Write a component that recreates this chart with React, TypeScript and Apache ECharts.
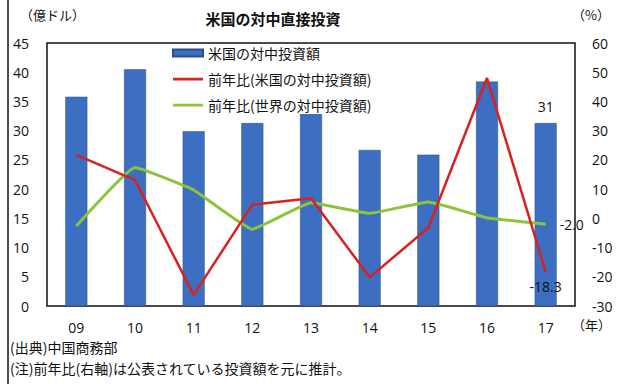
import React, { useEffect, useRef } from "react";
import * as echarts from "echarts";

const years = ["09", "10", "11", "12", "13", "14", "15", "16", "17"];
const usInvestment = [35.8, 40.5, 29.9, 31.3, 33.4, 26.7, 25.9, 38.4, 31.3];
const usYoY = [21.7, 13.1, -26.2, 4.7, 6.9, -20.2, -3.2, 48.0, -18.3];
const worldYoY = [-2.6, 17.4, 9.7, -3.7, 5.3, 1.7, 5.6, 0.2, -2.0];

const FONT = "'Noto Sans CJK JP', 'Noto Sans', sans-serif";
const NUMFONT = "'Open Sans', 'Noto Sans', sans-serif";
const LINE_ICON = "path://M0,0h30v0.01h-30zM0,2.3h30v2.6h-30zM0,6.99h30v0.01h-30z";

export default function App() {
  const ref = useRef<HTMLDivElement>(null);
  useEffect(() => {
    if (!ref.current) return;
    const chart = echarts.init(ref.current, null, { renderer: "svg" });
    const last = years.length - 1;
    chart.setOption({
      animation: false,
      backgroundColor: "#ffffff",
      grid: {
        left: 47,
        right: 51,
        top: 43,
        bottom: 78,
        show: true,
        borderColor: "#111",
        borderWidth: 1.5,
        backgroundColor: "transparent",
      },
      title: {
        text: "米国の対中直接投資",
        left: 268,
        textAlign: "center",
        top: 6,
        textStyle: { fontFamily: FONT, fontSize: 15, fontWeight: "bold", color: "#111" },
      },
      legend: {
        orient: "vertical",
        left: 168,
        top: 44,
        itemWidth: 30,
        itemHeight: 7,
        itemGap: 12,
        backgroundColor: "#ffffff",
        padding: [2, 4, 2, 4],
        textStyle: { fontFamily: FONT, fontSize: 14, color: "#111" },
        data: [
          { name: "米国の対中投資額", icon: "rect" },
          { name: "前年比(米国の対中投資額)", icon: LINE_ICON, itemStyle: { borderWidth: 0 } },
          { name: "前年比(世界の対中投資額)", icon: LINE_ICON, itemStyle: { borderWidth: 0 } },
        ],
      },
      xAxis: {
        type: "category",
        data: years,
        axisLine: { show: false },
        axisTick: { show: false },
        axisLabel: { fontFamily: NUMFONT, fontSize: 14, color: "#111", margin: 14 },
      },
      yAxis: [
        {
          type: "value",
          min: 0,
          max: 45,
          interval: 5,
          splitLine: { show: false },
          axisLine: { show: false },
          axisTick: { show: false },
          axisLabel: { fontFamily: NUMFONT, fontSize: 14, color: "#111", margin: 18 },
        },
        {
          type: "value",
          min: -30,
          max: 60,
          interval: 10,
          position: "right",
          splitLine: { show: false },
          axisLine: { show: false },
          axisTick: { show: false },
          axisLabel: { fontFamily: NUMFONT, fontSize: 14, color: "#111", margin: 17 },
        },
      ],
      series: [
        {
          name: "米国の対中投資額",
          type: "bar",
          yAxisIndex: 0,
          barWidth: 22,
          itemStyle: { color: "#3c6fc2", borderColor: "#2a4f8f", borderWidth: 0.5 },
          data: usInvestment.map((v, i) =>
            i === last
              ? {
                  value: v,
                  label: {
                    show: true,
                    position: "top",
                    distance: 10,
                    formatter: String(Math.round(v)),
                    fontFamily: NUMFONT,
                    fontSize: 14,
                    color: "#111",
                  },
                }
              : v
          ),
        },
        {
          name: "前年比(米国の対中投資額)",
          type: "line",
          yAxisIndex: 1,
          symbol: "none",
          lineStyle: { color: "#d9211d", width: 2.5 },
          itemStyle: { color: "#d9211d" },
          z: 4,
          endLabel: {
            show: true,
            distance: 0,
            align: "center",
            verticalAlign: "top",
            offset: [0, 8],
            formatter: (p: any) => Number(p.value).toFixed(1),
            fontFamily: NUMFONT,
            fontSize: 14,
            color: "#111",
          },
          data: usYoY,
        },
        {
          name: "前年比(世界の対中投資額)",
          type: "line",
          yAxisIndex: 1,
          symbol: "none",
          smooth: 0.1,
          lineStyle: { color: "#8dc43c", width: 3 },
          itemStyle: { color: "#8dc43c" },
          z: 3,
          endLabel: {
            show: true,
            distance: 14,
            formatter: (p: any) => Number(p.value).toFixed(1),
            fontFamily: NUMFONT,
            fontSize: 14,
            color: "#111",
          },
          data: worldYoY,
        },
      ],
      graphic: [
        { type: "line", shape: { x1: 8, y1: 0, x2: 8, y2: 384 }, style: { stroke: "#111", lineWidth: 1.5 } },
        {
          type: "text",
          left: 20,
          top: 8,
          style: { text: "（億ドル）", fontFamily: FONT, fontSize: 13, fill: "#111" },
        },
        {
          type: "text",
          left: 572,
          top: 8,
          style: { text: "（%）", fontFamily: FONT, fontSize: 13, fill: "#111" },
        },
        {
          type: "text",
          left: 572,
          top: 318,
          style: { text: "（年）", fontFamily: FONT, fontSize: 13, fill: "#111" },
        },
        {
          type: "text",
          left: 10,
          top: 340,
          style: { text: "(出典)中国商務部", fontFamily: FONT, fontSize: 14, fill: "#111" },
        },
        {
          type: "text",
          left: 10,
          top: 361,
          style: {
            text: "(注)前年比(右軸)は公表されている投資額を元に推計。",
            fontFamily: FONT,
            fontSize: 14,
            fill: "#111",
          },
        },
      ],
    });
    return () => chart.dispose();
  }, []);
  return <div ref={ref} style={{ width: 626, height: 384, position: "absolute", left: 0, top: 0 }} />;
}
